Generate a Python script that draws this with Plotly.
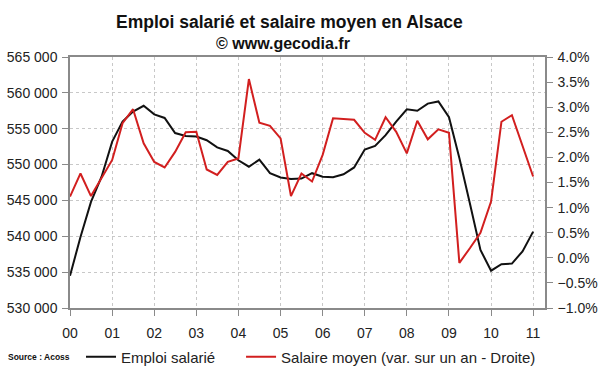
import pandas as pd
import plotly.graph_objects as go

# Quarterly data, 2000 Q1 .. 2011 Q1
quarters = pd.date_range("2000-01-01", periods=45, freq="QS")

emploi_salarie = [
    534500, 539900, 544800, 548300, 553200, 556000, 557400, 558200, 557000, 556500,
    554400, 554000, 553900, 553400, 552400, 551900, 550600, 549700, 550700, 548800,
    548200, 548000, 548050, 548800, 548300, 548230, 548650, 549600, 552100, 552600,
    554100, 556000, 557700, 557500, 558500, 558800, 556600, 550900, 544600, 538100,
    535200, 536100, 536200, 537900, 540650,
]

salaire_moyen = [
    1.22, 1.68, 1.23, 1.58, 1.95, 2.68, 2.96, 2.28, 1.91, 1.80,
    2.11, 2.50, 2.51, 1.76, 1.65, 1.91, 1.98, 3.56, 2.69, 2.63,
    2.38, 1.23, 1.68, 1.52, 2.05, 2.78, 2.76, 2.75, 2.49, 2.35,
    2.80, 2.51, 2.08, 2.73, 2.36, 2.56, 2.49, -0.10, 0.19, 0.50,
    1.12, 2.71, 2.84, 2.23, 1.62,
]

FONT = "Liberation Sans, Arial, sans-serif"

fig = go.Figure()
fig.add_trace(go.Scatter(
    x=quarters, y=emploi_salarie, name="Emploi salarié" + "&nbsp;" * 5,
    mode="lines", line=dict(color="#111111", width=2), yaxis="y",
))
fig.add_trace(go.Scatter(
    x=quarters, y=salaire_moyen, name="Salaire moyen (var. sur un an - Droite)",
    mode="lines", line=dict(color="#d21f1f", width=2), yaxis="y2",
))

axis_col = "#8a8a8a"
fig.update_layout(
    width=600, height=372,
    margin=dict(l=70, r=55, t=57, b=64),
    paper_bgcolor="white", plot_bgcolor="white",
    separators=". ",
    font=dict(family=FONT, size=14, color="#222222"),
    showlegend=True,
    legend=dict(
        orientation="h", xref="container", yref="container",
        x=0.135, xanchor="left", y=0.04, yanchor="middle",
        font=dict(size=15, color="#222222"), itemwidth=30,
        bgcolor="rgba(0,0,0,0)", borderwidth=0,
    ),
    xaxis=dict(
        type="date", range=["2000-01-01", "2011-04-14"],
        tickformat="%y", dtick="M12", tick0="2000-01-01",
        showline=True, linecolor=axis_col, linewidth=1.5, mirror=True,
        ticks="outside", ticklen=6, tickcolor=axis_col,
        showgrid=True, gridcolor="#c8c8c8", griddash="dot", gridwidth=1,
        tickfont=dict(size=14, color="#222222"), zeroline=False,
        automargin=False, ticklabelstandoff=5,
    ),
    yaxis=dict(
        range=[530000, 565000], dtick=5000, tickformat=",d",
        showline=True, linecolor=axis_col, linewidth=1.5,
        ticks="outside", ticklen=6, tickcolor=axis_col,
        showgrid=True, gridcolor="#c8c8c8", griddash="dot", gridwidth=1,
        tickfont=dict(size=14, color="#222222"), zeroline=False,
        automargin=False, ticklabelstandoff=2,
    ),
    yaxis2=dict(
        range=[-1, 4], dtick=0.5, tickformat=".1f", ticksuffix="%",
        overlaying="y", side="right",
        showline=True, linecolor=axis_col, linewidth=1.5,
        ticks="outside", ticklen=6, tickcolor=axis_col,
        showgrid=False, zeroline=False,
        tickfont=dict(size=14, color="#222222"),
        automargin=False, ticklabelstandoff=2,
    ),
    annotations=[
        dict(text="<b>Emploi salarié et salaire moyen en Alsace</b>",
             xref="paper", yref="paper", x=0.463, y=1.139,
             xanchor="center", yanchor="middle", showarrow=False,
             font=dict(size=17.5, color="#111111", family=FONT)),
        dict(text="<b>© www.gecodia.fr</b>",
             xref="paper", yref="paper", x=0.448, y=1.052,
             xanchor="center", yanchor="middle", showarrow=False,
             font=dict(size=16, color="#111111", family=FONT)),
        dict(text="<b>Source : Acoss</b>",
             xref="paper", yref="paper", x=-0.135, y=-0.195,
             xanchor="left", yanchor="middle", showarrow=False,
             font=dict(size=8.5, color="#111111", family=FONT)),
    ],
)

fig.write_html(
    "out.html",
    config={"displayModeBar": False},
    post_script="document.body.style.margin='0px';",
)
